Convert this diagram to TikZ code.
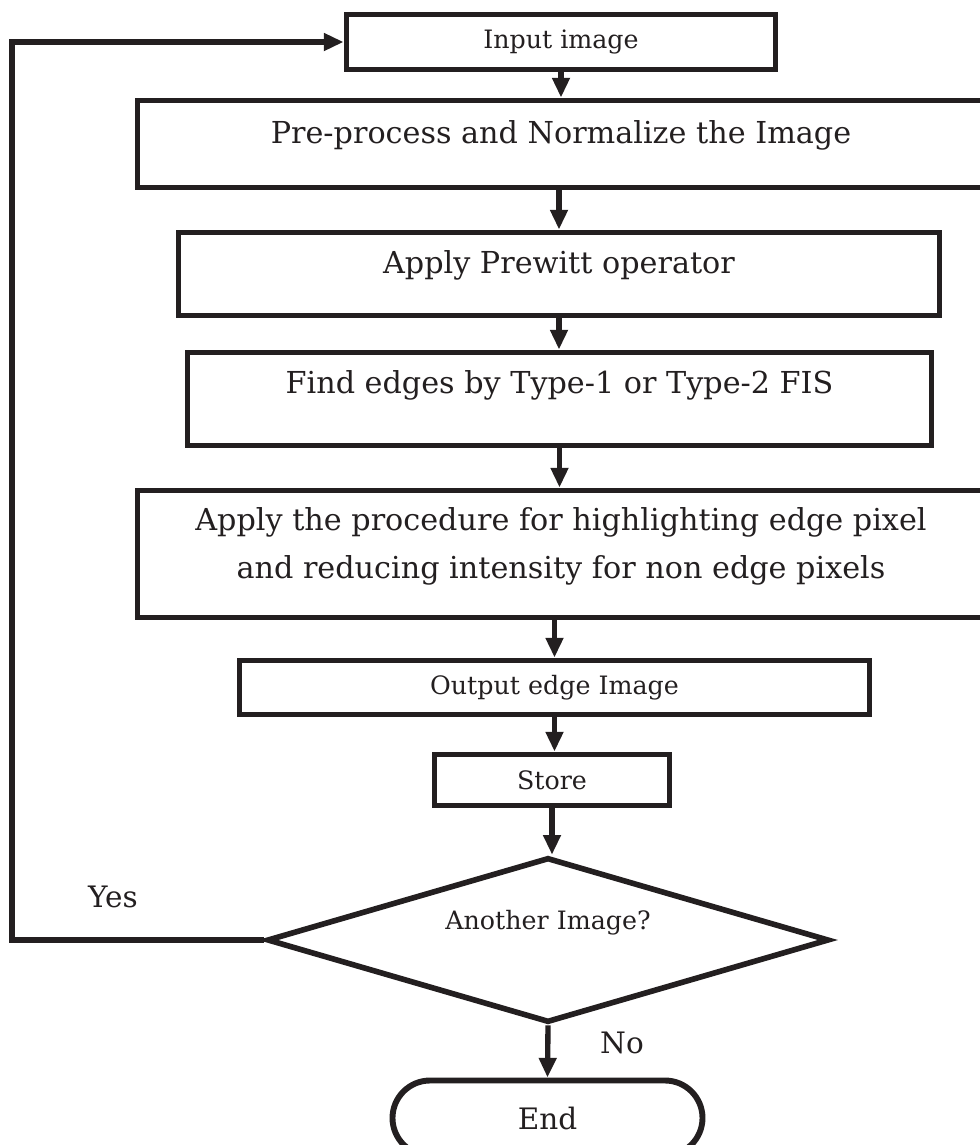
\documentclass[tikz,border=0pt]{standalone}
\usepackage{fontspec}
\setmainfont{DejaVu Serif}
\usepackage{tikz}
\usetikzlibrary{arrows.meta,shapes.geometric,shapes.misc}
\definecolor{ink}{HTML}{231F20}
\newdimen\px
\px=0.025cm
\tikzset{
  every picture/.style={
    line join=miter,
    >={Triangle[length=14pt,width=12pt]},
  },
  box/.style={draw=ink, line width=4.2pt, rectangle, inner sep=0pt},
  conn/.style={->, draw=ink, line width=3.8pt},
  bigtext/.style={text=ink, font=\fontsize{21.5}{34}\selectfont, align=center, inner sep=0pt},
  smalltext/.style={text=ink, font=\fontsize{18}{22}\selectfont, inner sep=0pt},
}

\begin{document}
\begin{tikzpicture}[x=\px,y=-\px]
    \useasboundingbox (0,0) rectangle (980,1145);
    % Boxes
    \node[box, smalltext, minimum width=429\px, minimum height=55\px] (inp) at (561,42) {Input image};
    \node[box, minimum width=855\px, minimum height=87\px] (pre) at (565,144) {};
    \node[bigtext] (preT) at (561,135) {Pre-process and Normalize the Image};
    \node[box, minimum width=761\px, minimum height=83\px] (prew) at (559,274) {};
    \node[bigtext] (prewT) at (559,265) {Apply Prewitt operator};
    \node[box, minimum width=744\px, minimum height=93\px] (find) at (559.5,399) {};
    \node[bigtext] (findT) at (559.5,385) {Find edges by Type-1 or Type-2 FIS};
    \node[box, minimum width=855\px, minimum height=127\px] (proc) at (565,554) {};
    \node[bigtext] (procT) at (561,546) {Apply the procedure for highlighting edge pixel\\and reducing intensity for non edge pixels};
    \node[box, smalltext, minimum width=630\px, minimum height=54\px] (out) at (554.5,687.5) {Output edge Image};
    \node[box, smalltext, minimum width=235\px, minimum height=51\px] (store) at (552,780) {Store};
    % Decision
    \node[draw=ink, line width=4pt, diamond, aspect=3.3, minimum width=562\px, minimum height=165\px, inner sep=0pt] (ask) at (548,940) {};
    \node[smalltext] (askT) at (548,923) {Another Image?};
    \node[draw=ink, line width=4.2pt, rounded rectangle, minimum width=310\px, minimum height=75\px, inner sep=0pt, text=ink, font=\fontsize{21}{25}\selectfont] (end) at (547.5,1118) {End};
    % Arrows
    \draw[conn] (inp.south) -- (inp.south |- pre.north);
    \draw[conn] (pre.south -| prewT) -- (prew.north -| prewT);
    \draw[conn] (prew.south) -- (prew.south |- find.north);
    \draw[conn] (find.south) -- (find.south |- proc.north);
    \draw[conn] (proc.south -| out) -- (out.north);
    \draw[conn] (out.south) -- (out.south |- store.north);
    \draw[conn] (store.south) -- (store.south |- ask.north);
    \draw[conn] (ask.south) -- (end.north);
    % Loop back
    \coordinate (loop) at (12,940);
    \draw[conn] (ask.west) -- (loop) |- (inp.west);
    \node[text=ink, font=\fontsize{21}{25}\selectfont] (yes) at (113,897) {Yes};
    \node[text=ink, font=\fontsize{21}{25}\selectfont] (no) at (622,1043) {No};
\end{tikzpicture}
\end{document}
